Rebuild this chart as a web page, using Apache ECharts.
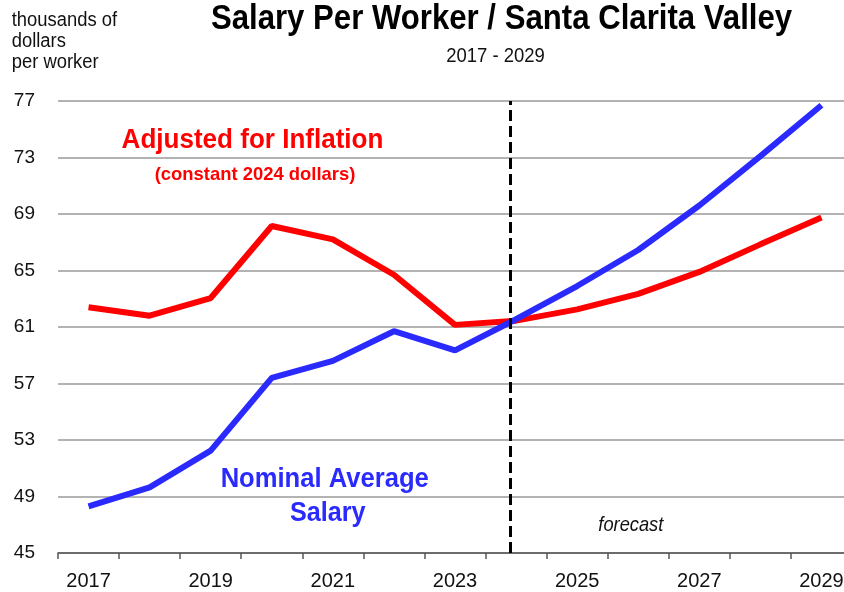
<!DOCTYPE html>
<html>
<head>
<meta charset="utf-8">
<script src="https://cdn.jsdelivr.net/npm/echarts@6/dist/echarts.min.js"></script>
<style>html,body{margin:0;padding:0;background:#fff;}#chart{width:844px;height:592px;}</style>
</head>
<body>
<div id="chart"></div>
<script>
const years = ['2017','2018','2019','2020','2021','2022','2023','2024','2025','2026','2027','2028','2029'];
const nominalSalary = [48.3, 49.65, 52.25, 57.4, 58.6, 60.7, 59.35, 61.55, 63.9, 66.45, 69.6, 73.1, 76.7];
const adjustedSalary = [62.4, 61.8, 63.05, 68.15, 67.2, 64.7, 61.15, 61.45, 62.25, 63.35, 64.9, 66.85, 68.75];
const forecastStart = 2023.9;
const yMin = 45, yMax = 77, yStep = 4;

const FONT = "'Liberation Sans', Arial, sans-serif";
function txt(text, x, y, font, fill, scaleX, align) {
  return {type: 'text', x: x, y: y, scaleX: scaleX, silent: true,
    style: {text: text, font: font + ' ' + FONT, fill: fill, align: align || 'center', verticalAlign: 'middle'}};
}
const chart = echarts.init(document.getElementById('chart'));
chart.setOption({
  backgroundColor: '#fff',
  animation: false,
  grid: {left: 58, right: -8, top: 101, bottom: 39, containLabel: false, outerBoundsMode: 'none'},
  xAxis: [
    {type: 'category', data: years, boundaryGap: true,
     axisLine: {show: true, lineStyle: {color: '#555', width: 1.5}},
     axisTick: {show: true, interval: 0, length: 6, lineStyle: {color: '#555', width: 1.5}},
     axisLabel: {interval: 1, margin: 18, fontFamily: FONT, fontSize: 20, color: '#111'},
     splitLine: {show: false}},
    {type: 'value', min: 2016.5, max: 2029.5, show: false, gridIndex: 0}
  ],
  yAxis: {type: 'value', min: yMin, max: yMax, interval: yStep,
    axisLine: {show: false}, axisTick: {show: false},
    axisLabel: {margin: 23, fontFamily: FONT, fontSize: 19, color: '#111'},
    splitLine: {show: true, lineStyle: {color: '#9a9a9a', width: 1.5}}},
  graphic: [
    txt('Salary Per Worker / Santa Clarita Valley', 501.5, 19.5, 'bold 35px', '#000', 0.89),
    txt('2017 - 2029', 495.5, 56, '21px', '#111', 0.88),
    {type: 'text', x: 11.7, y: 41.3, scaleX: 0.92, silent: true,
     style: {text: 'thousands of\ndollars\nper worker', font: '20px ' + FONT, lineHeight: 21, fill: '#111', align: 'left', verticalAlign: 'middle'}},
    txt('Adjusted for Inflation', 252.5, 140.2, 'bold 28px', '#ff0000', 0.93),
    txt('(constant 2024 dollars)', 255, 174.5, 'bold 19px', '#ff0000', 0.97),
    txt('Nominal Average', 324.7, 479.5, 'bold 28px', '#2a2aff', 0.914),
    txt('Salary', 327.8, 513.5, 'bold 28px', '#2a2aff', 0.9),
    txt('forecast', 630.8, 525, 'italic 21px', '#111', 0.87)
  ],
  series: [
    {name: 'Adjusted for Inflation', type: 'line', data: adjustedSalary, symbol: 'none',
     lineStyle: {color: '#ff0000', width: 6}, z: 3},
    {name: 'Nominal Average Salary', type: 'line', data: nominalSalary, symbol: 'none',
     lineStyle: {color: '#2a2aff', width: 6}, z: 4},
    {name: 'forecast', type: 'line', xAxisIndex: 1, data: [], z: 5,
     markLine: {silent: true, symbol: 'none', label: {show: false},
       lineStyle: {color: '#000', width: 3, type: [11, 5]},
       data: [{xAxis: forecastStart}]}}
  ]
});
</script>
</body>
</html>
